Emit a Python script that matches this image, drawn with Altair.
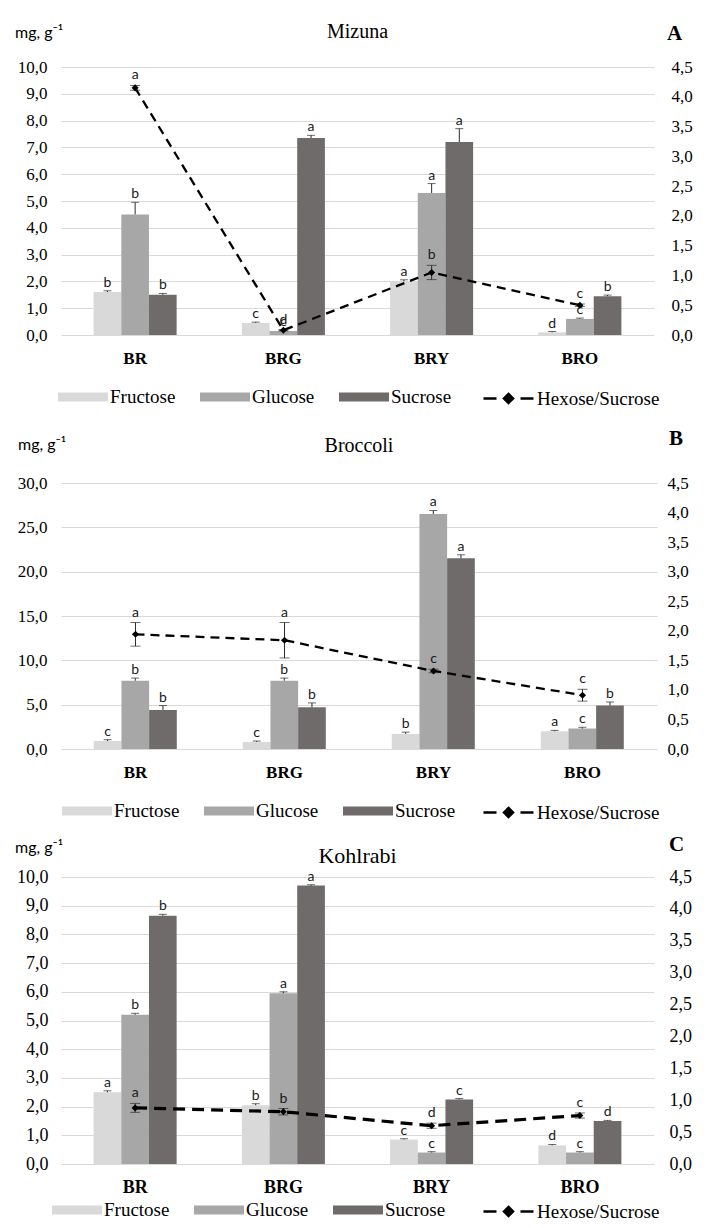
import altair as alt
import pandas as pd

groups = ["BR", "BRG", "BRY", "BRO"]
sugars = ["Fructose", "Glucose", "Sucrose"]
ratio_name = "Hexose/Sucrose"
sugar_colors = ["#d9d9d9", "#a7a7a7", "#706b6b"]

# ---------- A: Mizuna ----------
mz_fru = [1.6, 0.45, 2.0, 0.1]
mz_fru_err = [0.05, 0.03, 0.06, 0.03]
mz_fru_let = ["b", "c", "a", "d"]
mz_glu = [4.5, 0.15, 5.3, 0.6]
mz_glu_err = [0.45, 0.02, 0.35, 0.03]
mz_glu_let = ["b", "c", "a", "c"]
mz_suc = [1.5, 7.35, 7.2, 1.45]
mz_suc_err = [0.05, 0.1, 0.5, 0.04]
mz_suc_let = ["b", "a", "a", "b"]
mz_ratio = [4.15, 0.08, 1.05, 0.5]
mz_ratio_err = [0.04, 0.01, 0.12, 0.02]
mz_ratio_let = ["a", "d", "b", "c"]

# ---------- B: Broccoli ----------
br_fru = [0.9, 0.8, 1.7, 2.0]
br_fru_err = [0.15, 0.1, 0.2, 0.1]
br_fru_let = ["c", "c", "b", "a"]
br_glu = [7.7, 7.7, 26.5, 2.3]
br_glu_err = [0.3, 0.3, 0.4, 0.15]
br_glu_let = ["b", "b", "a", "c"]
br_suc = [4.4, 4.7, 21.5, 4.9]
br_suc_err = [0.5, 0.5, 0.4, 0.4]
br_suc_let = ["b", "b", "a", "b"]
br_ratio = [1.94, 1.84, 1.32, 0.91]
br_ratio_err = [0.2, 0.3, 0.03, 0.1]
br_ratio_let = ["a", "a", "c", "c"]

# ---------- C: Kohlrabi ----------
kh_fru = [2.5, 2.05, 0.85, 0.65]
kh_fru_err = [0.05, 0.05, 0.03, 0.03]
kh_fru_let = ["a", "b", "c", "d"]
kh_glu = [5.2, 5.95, 0.4, 0.4]
kh_glu_err = [0.05, 0.05, 0.03, 0.03]
kh_glu_let = ["b", "a", "c", "c"]
kh_suc = [8.65, 9.7, 2.25, 1.5]
kh_suc_err = [0.05, 0.03, 0.03, 0.02]
kh_suc_let = ["b", "a", "c", "d"]
kh_ratio = [0.88, 0.82, 0.6, 0.76]
kh_ratio_err = [0.07, 0.05, 0.04, 0.04]
kh_ratio_let = ["a", "b", "d", "c"]

SERIF = "Liberation Serif"
LETTER_FONT = "Lato"
COMMA = "replace(format(datum.value, '.1f'), '.', ',')"
RECT_PATH = "M-1,-0.45H4V0.45H-1Z"
LINE_PATH = ("M-1,0H0.3M2.7,0H4M1.5,-0.45L1.95,0L1.5,0.45L1.05,0Z"
             "M1.5,-0.3V0.3M1.2,0H1.8")


def panel(name, tag, vals, errs, lets, ratio, ratio_err, ratio_let,
          ymax, ystep, W, H, tick_fs, cat_fs, pad_left, pad_right, pad_bottom,
          unit_xy, title_y, title_fs, tag_xy, legend_x, legend2_x, legend_y,
          legend_pad, dash, dash_w):
    rows = []
    for si, s in enumerate(sugars):
        for gi, g in enumerate(groups):
            v = vals[si][gi]
            e = errs[si][gi]
            rows.append({"group": g, "sugar": s, "value": v,
                         "top": round(v + e, 4), "letter": lets[si][gi]})
    bdf = pd.DataFrame(rows)
    rdf = pd.DataFrame({
        "group": groups,
        "ratio": ratio,
        "lo": [round(r - e, 4) for r, e in zip(ratio, ratio_err)],
        "hi": [round(r + e, 4) for r, e in zip(ratio, ratio_err)],
        "letter": ratio_let,
        "series": [ratio_name] * len(groups),
    })

    xenc = alt.X("group:N", sort=groups, title=None,
                 scale=alt.Scale(paddingInner=0.44, paddingOuter=0.22),
                 axis=alt.Axis(labelFont=SERIF, labelFontWeight="bold",
                               labelFontSize=cat_fs, labelColor="black",
                               labelPadding=pad_bottom, ticks=False,
                               domain=False, labelAngle=0))
    xoff = alt.XOffset("sugar:N", sort=sugars,
                       scale=alt.Scale(paddingInner=0, paddingOuter=0))
    n = int(round(ymax / ystep))
    left_axis = alt.Axis(values=[i * ystep for i in range(n + 1)], labelExpr=COMMA,
                         grid=True, gridColor="#d9d9d9", gridWidth=1,
                         domain=False, ticks=False, labelFont=SERIF,
                         labelFontSize=tick_fs, labelColor="black",
                         labelPadding=pad_left, title=None)
    yscale = alt.Scale(domain=[0, ymax], nice=False)

    legend = alt.Legend(
        orient="none", legendX=legend_x - legend_pad, legendY=legend_y - legend_pad,
        direction="horizontal", columns=3, title=None, padding=legend_pad,
        symbolType=RECT_PATH, symbolSize=400, symbolStrokeWidth=0,
        symbolOpacity=1,
        labelFont=SERIF, labelFontSize=19, labelColor="black",
        labelOffset=32, columnPadding=24,
    )

    base = alt.Chart(bdf)
    bars = base.mark_bar().encode(
        x=xenc, xOffset=xoff,
        y=alt.Y("value:Q", scale=yscale, axis=left_axis),
        color=alt.Color("sugar:N",
                        scale=alt.Scale(domain=sugars, range=sugar_colors),
                        legend=legend),
    )
    err = base.mark_rule(color="#2b2b2b", strokeWidth=1).encode(
        x=xenc, xOffset=xoff,
        y=alt.Y("value:Q", scale=yscale, axis=left_axis), y2="top:Q")
    cap = base.mark_tick(color="#2b2b2b", thickness=1, size=8, orient="horizontal").encode(
        x=xenc, xOffset=xoff, y=alt.Y("top:Q", scale=yscale, axis=left_axis))
    lett = base.mark_text(font=LETTER_FONT, fontSize=14, color="#1a1a1a",
                          baseline="bottom", dy=-1).encode(
        x=xenc, xOffset=xoff, y=alt.Y("top:Q", scale=yscale, axis=left_axis),
        text="letter:N")
    left_group = alt.layer(bars, err, cap, lett)

    rscale = alt.Scale(domain=[0, 4.5], nice=False)
    right_axis = alt.Axis(orient="right", values=[i * 0.5 for i in range(10)],
                          labelExpr=COMMA, grid=False, domain=False, ticks=False,
                          labelFont=SERIF, labelFontSize=tick_fs, labelColor="black",
                          labelPadding=pad_right, title=None)
    rbase = alt.Chart(rdf)
    line = rbase.mark_line(color="black", strokeDash=dash, strokeWidth=dash_w).encode(
        x=xenc, y=alt.Y("ratio:Q", scale=rscale, axis=right_axis))
    rerr = rbase.mark_rule(color="#2b2b2b", strokeWidth=1).encode(
        x=xenc, y=alt.Y("lo:Q", scale=rscale, axis=right_axis), y2="hi:Q")
    rcap_lo = rbase.mark_tick(color="#2b2b2b", thickness=1, size=10, orient="horizontal").encode(
        x=xenc, y=alt.Y("lo:Q", scale=rscale, axis=right_axis))
    rcap_hi = rbase.mark_tick(color="#2b2b2b", thickness=1, size=10, orient="horizontal").encode(
        x=xenc, y=alt.Y("hi:Q", scale=rscale, axis=right_axis))
    pts = rbase.mark_point(shape="diamond", filled=True, color="black", size=50, opacity=1).encode(
        x=xenc, y=alt.Y("ratio:Q", scale=rscale, axis=right_axis))
    rlet = rbase.mark_text(font=LETTER_FONT, fontSize=14, color="#1a1a1a",
                           baseline="bottom", dy=-3).encode(
        x=xenc, y=alt.Y("hi:Q", scale=rscale, axis=right_axis), text="letter:N")
    # legend-only layer for the ratio series (its rows are filtered out, only the key shows)
    line_key = rbase.transform_filter("false").mark_point(
        filled=False, color="black", strokeWidth=2.5, size=400, opacity=1
    ).encode(
        x=xenc, y=alt.Y("ratio:Q", scale=rscale, axis=right_axis),
        shape=alt.Shape("series:N", scale=alt.Scale(domain=[ratio_name], range=[LINE_PATH]),
                        legend=alt.Legend(orient="none", legendX=legend2_x, legendY=legend_y,
                                          title=None, padding=0, symbolSize=400,
                                          symbolStrokeColor="black",
                                          symbolStrokeWidth=2.5, symbolOpacity=1,
                                          labelFont=SERIF, labelFontSize=19,
                                          labelColor="black", labelOffset=32)),
    )
    right_group = alt.layer(line, rerr, rcap_lo, rcap_hi, pts, rlet, line_key)

    hdr = alt.Chart(pd.DataFrame({"k": [0]}))
    t_unit = hdr.mark_text(text="mg, g\u207b\u00b9", align="left", baseline="middle",
                           font=LETTER_FONT, fontSize=16, color="black").encode(
        x=alt.value(unit_xy[0]), y=alt.value(unit_xy[1]))
    t_title = hdr.mark_text(text=name, align="center", baseline="middle",
                            font=SERIF, fontSize=title_fs, color="black").encode(
        x=alt.value(W / 2), y=alt.value(title_y))
    t_tag = hdr.mark_text(text=tag, align="left", baseline="middle",
                          font=SERIF, fontSize=21, fontWeight="bold", color="black").encode(
        x=alt.value(tag_xy[0]), y=alt.value(tag_xy[1]))

    return alt.layer(left_group, right_group, t_unit, t_title, t_tag).resolve_scale(
        y="independent").properties(width=W, height=H)


pA = panel("Mizuna", "A",
           [mz_fru, mz_glu, mz_suc], [mz_fru_err, mz_glu_err, mz_suc_err],
           [mz_fru_let, mz_glu_let, mz_suc_let],
           mz_ratio, mz_ratio_err, mz_ratio_let,
           10, 1, 593, 268, 17, 17, 14, 17, 15,
           (-46, -34), -35, 20, (606, -33), -3, 421, 320, 10, [9, 6], 2.3)
pB = panel("Broccoli", "B",
           [br_fru, br_glu, br_suc], [br_fru_err, br_glu_err, br_suc_err],
           [br_fru_let, br_glu_let, br_suc_let],
           br_ratio, br_ratio_err, br_ratio_let,
           30, 5, 596, 266, 17, 17, 14, 10, 15,
           (-43, -38), -37, 20, (608, -44), 1, 421, 318, 0, [9, 6], 2.3)
pC = panel("Kohlrabi", "C",
           [kh_fru, kh_glu, kh_suc], [kh_fru_err, kh_glu_err, kh_suc_err],
           [kh_fru_let, kh_glu_let, kh_suc_let],
           kh_ratio, kh_ratio_err, kh_ratio_let,
           10, 1, 593, 287, 18, 18, 13, 15, 14,
           (-46, -29), -21, 22, (608, -32), -9, 421, 323, 0, [12, 7], 3.2)

chart = alt.vconcat(pA, pB, pC, spacing=11).resolve_scale(
    color="independent", shape="independent").resolve_legend(
    color="independent", shape="independent").properties(
    padding={"left": 7, "top": 14, "right": 0, "bottom": -1}
).configure_view(stroke=None)

chart.save("out.html", embed_options={"renderer": "svg", "actions": False})
